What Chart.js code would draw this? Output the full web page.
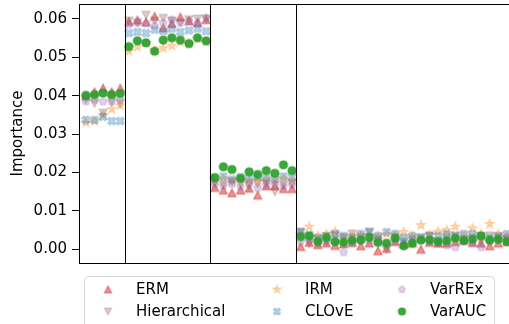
<!DOCTYPE html>
<html>
<head>
<meta charset="utf-8">
<script src="https://cdn.jsdelivr.net/npm/chart.js@4.4.0/dist/chart.umd.min.js"></script>
<style>
  html, body { margin: 0; padding: 0; background: #fff; overflow: hidden; }
  #wrap { position: relative; width: 509px; height: 324px; overflow: hidden; }
  #chart { position: absolute; left: 0; top: -10px; width: 530px; height: 340px; }
</style>
</head>
<body>
<div id="wrap"><canvas id="chart" width="530" height="340"></canvas></div>
<script>
// feature importance per method, features 0..49 (plot is cropped on the right)
const ERM = [
  0.0400, 0.0410, 0.0420, 0.0410, 0.0420,
  0.0593, 0.0597, 0.0592, 0.0607, 0.0577, 0.0588, 0.0605, 0.0595, 0.0591, 0.0598,
  0.0161, 0.0154, 0.0147, 0.0154, 0.0159, 0.0141, 0.0165, 0.0165, 0.0158, 0.0158,
  0.0007, 0.0018, 0.0012, 0.0016, 0.0010, 0.0014, 0.0018, 0.0009, 0.0016, -0.0004,
  0.0002, 0.0020, 0.0014, 0.0016, 0.0000, 0.0018, 0.0016, 0.0016, 0.0020, 0.0024,
  0.0018, 0.0016, 0.0009, 0.0016, 0.0020
];
const HIERARCHICAL = [
  0.0390, 0.0380, 0.0355, 0.0385, 0.0380,
  0.0595, 0.0590, 0.0610, 0.0595, 0.0602, 0.0595, 0.0590, 0.0598, 0.0600, 0.0600,
  0.0172, 0.0168, 0.0175, 0.0170, 0.0165, 0.0170, 0.0172, 0.0150, 0.0168, 0.0170,
  0.0045, 0.0015, 0.0025, 0.0020, 0.0035, 0.0030, 0.0040, 0.0030, 0.0045, 0.0025,
  0.0000, 0.0030, 0.0020, 0.0025, 0.0030, 0.0035, 0.0020, 0.0030, 0.0035, 0.0025,
  0.0030, 0.0020, 0.0035, 0.0030, 0.0025
];
const IRM = [
  0.0330, 0.0334, 0.0350, 0.0365, 0.0375,
  0.0516, 0.0527, 0.0537, 0.0519, 0.0524, 0.0530, 0.0540, 0.0535, 0.0548, 0.0540,
  0.0180, 0.0185, 0.0178, 0.0182, 0.0180, 0.0178, 0.0183, 0.0180, 0.0185, 0.0180,
  0.0040, 0.0059, 0.0035, 0.0040, 0.0046, 0.0030, 0.0035, 0.0038, 0.0035, 0.0035,
  0.0040, 0.0038, 0.0045, 0.0035, 0.0063, 0.0038, 0.0046, 0.0050, 0.0059, 0.0038,
  0.0055, 0.0040, 0.0066, 0.0040, 0.0035
];
const CLOVE = [
  0.0337, 0.0337, 0.0345, 0.0334, 0.0334,
  0.0563, 0.0566, 0.0563, 0.0572, 0.0568, 0.0575, 0.0566, 0.0570, 0.0575, 0.0568,
  0.0185, 0.0190, 0.0182, 0.0188, 0.0185, 0.0190, 0.0185, 0.0183, 0.0190, 0.0188,
  0.0045, 0.0038, 0.0030, 0.0035, 0.0040, 0.0035, 0.0030, 0.0040, 0.0045, 0.0035,
  0.0045, 0.0040, 0.0030, 0.0035, 0.0030, 0.0035, 0.0035, 0.0040, 0.0035, 0.0040,
  0.0040, 0.0035, 0.0030, 0.0035, 0.0040
];
const VARREX = [
  0.0385, 0.0390, 0.0385, 0.0385, 0.0390,
  0.0585, 0.0590, 0.0588, 0.0582, 0.0590, 0.0598, 0.0590, 0.0595, 0.0588, 0.0603,
  0.0168, 0.0165, 0.0170, 0.0163, 0.0172, 0.0160, 0.0168, 0.0170, 0.0165, 0.0168,
  0.0020, 0.0025, 0.0015, 0.0020, 0.0018, -0.0008, 0.0015, 0.0025, 0.0020, 0.0025,
  0.0010, 0.0020, 0.0015, 0.0018, 0.0025, 0.0020, 0.0015, 0.0010, 0.0005, 0.0020,
  0.0015, 0.0005, 0.0020, 0.0025, 0.0030
];
const VARAUC = [
  0.0401, 0.0403, 0.0407, 0.0403, 0.0406,
  0.0528, 0.0543, 0.0538, 0.0516, 0.0545, 0.0551, 0.0545, 0.0536, 0.0551, 0.0543,
  0.0187, 0.0215, 0.0208, 0.0185, 0.0202, 0.0195, 0.0205, 0.0198, 0.0220, 0.0205,
  0.0033, 0.0035, 0.0020, 0.0031, 0.0020, 0.0018, 0.0023, 0.0024, 0.0031, 0.0018,
  0.0016, 0.0029, 0.0009, 0.0016, 0.0024, 0.0024, 0.0020, 0.0022, 0.0029, 0.0023,
  0.0026, 0.0035, 0.0024, 0.0026, 0.0020
];

const Y_TICKS = [0.00, 0.01, 0.02, 0.03, 0.04, 0.05, 0.06];
const GROUP_BREAKS = [4.5, 14.5, 24.5];

const OFFSET_Y = 10;   // canvas is shifted up by this much
const FONT = "DejaVu Sans";

const series = [
  { label: "ERM", values: ERM, shape: "triUp", color: "rgba(214,39,40,0.5)" },
  { label: "Hierarchical", values: HIERARCHICAL, shape: "triDown", color: "rgba(140,86,75,0.3)" },
  { label: "IRM", values: IRM, shape: "star", color: "rgba(255,127,14,0.3)" },
  { label: "CLOvE", values: CLOVE, shape: "xFilled", color: "rgba(31,119,180,0.3)" },
  { label: "VarREx", values: VARREX, shape: "pentagon", color: "rgba(148,103,189,0.3)" },
  { label: "VarAUC", values: VARAUC, shape: "circle", color: "rgba(44,160,44,0.92)" },
];

function markerPath(ctx, shape, s) {
  const r = s / 2;
  ctx.beginPath();
  if (shape === "circle") {
    ctx.arc(0, 0, r, 0, Math.PI * 2);
  } else if (shape === "triUp") {
    ctx.moveTo(0, -r); ctx.lineTo(r, r); ctx.lineTo(-r, r);
  } else if (shape === "triDown") {
    ctx.moveTo(0, r); ctx.lineTo(r, -r); ctx.lineTo(-r, -r);
  } else if (shape === "star" || shape === "pentagon") {
    const n = shape === "star" ? 10 : 5;
    for (let k = 0; k < n; k++) {
      const a = -Math.PI / 2 + k * 2 * Math.PI / n;
      const rr = shape === "star" && k % 2 ? r * 0.381966 : r;
      ctx.lineTo(rr * Math.cos(a), rr * Math.sin(a));
    }
  } else if (shape === "xFilled") {
    const pts = [[-1,-2],[0,-1],[1,-2],[2,-1],[1,0],[2,1],[1,2],[0,1],[-1,2],[-2,1],[-1,0],[-2,-1]];
    pts.forEach(([px, py]) => ctx.lineTo(px * r / 2, py * r / 2));
  }
  ctx.closePath();
}

// matplotlib-like marker: face + same-coloured edge, both with alpha
function makeMarker(shape, size, color) {
  const c = document.createElement("canvas");
  const dim = Math.ceil(size) + 6;
  c.width = dim; c.height = dim;
  const ctx = c.getContext("2d");
  ctx.translate(dim / 2, dim / 2);
  markerPath(ctx, shape, shape === "star" ? size * 1.2 : size);
  ctx.fillStyle = color;
  ctx.fill();
  ctx.strokeStyle = color;
  ctx.lineWidth = 1.2;
  ctx.lineJoin = "miter";
  ctx.stroke();
  return c;
}

series.forEach((s) => {
  s.marker = makeMarker(s.shape, 8, s.color);
  s.legendMarker = makeMarker(s.shape, 7, s.color);
});

const framePlugin = {
  id: "frame",
  afterDatasetsDraw(chart) {
    const { ctx, chartArea: a, scales } = chart;
    ctx.save();
    ctx.strokeStyle = "#000";
    ctx.lineWidth = 1;
    GROUP_BREAKS.forEach((b) => {
      const x = Math.round(scales.x.getPixelForValue(b)) + 0.5;
      ctx.beginPath();
      ctx.moveTo(x, a.top);
      ctx.lineTo(x, a.bottom);
      ctx.stroke();
    });
    ctx.strokeRect(Math.round(a.left) + 0.5, Math.round(a.top) + 0.5,
      Math.round(a.right - a.left), Math.round(a.bottom - a.top));
    ctx.restore();
  },
  afterDraw(chart) {
    const ctx = chart.ctx;
    ctx.save();
    ctx.translate(0, OFFSET_Y);
    // legend frame
    ctx.beginPath();
    ctx.roundRect(84.5, 276.5, 410, 60, 4);
    ctx.fillStyle = "rgba(255,255,255,0.8)";
    ctx.fill();
    ctx.strokeStyle = "#d6d6d6";
    ctx.lineWidth = 1;
    ctx.stroke();
    const colX = [108, 277, 402];
    const rowY = [289.5, 311.5];
    ctx.font = "15px '" + FONT + "'";
    ctx.fillStyle = "#000";
    ctx.textBaseline = "middle";
    series.forEach((s, i) => {
      const col = Math.floor(i / 2), row = i % 2;
      const m = s.legendMarker;
      ctx.drawImage(m, colX[col] - m.width / 2, rowY[row] - m.height / 2);
      ctx.fillText(s.label, colX[col] + 28, rowY[row] + 0.5);
    });
    ctx.restore();
  },
};

new Chart(document.getElementById("chart"), {
  type: "scatter",
  data: {
    datasets: series.map((s, i) => ({
      label: s.label,
      data: s.values.map((y, x) => ({ x, y })),
      pointStyle: s.marker,
      pointRadius: 5,
      order: series.length - i,
      backgroundColor: s.color,
      borderColor: s.color,
    })),
  },
  options: {
    responsive: false,
    animation: false,
    events: [],
    layout: { padding: { left: 0, right: 3, top: 4 + OFFSET_Y, bottom: 340 - 263 - OFFSET_Y } },
    plugins: { legend: { display: false }, tooltip: { enabled: false } },
    scales: {
      x: { type: "linear", min: -0.8, max: 51, display: false },
      y: {
        min: -0.00357,
        max: 0.0639,
        afterBuildTicks: (scale) => { scale.ticks = Y_TICKS.map((v) => ({ value: v })); },
        afterFit: (scale) => { scale.width = 79; },
        ticks: {
          color: "#000",
          padding: 5,
          font: { family: FONT, size: 15 },
          callback: (v) => Number(v).toFixed(2),
        },
        grid: { drawOnChartArea: false, drawTicks: true, tickLength: 7, color: "#000" },
        border: { display: false },
        title: {
          display: true,
          text: "Importance",
          color: "#000",
          font: { family: FONT, size: 15 },
          padding: { top: 9, bottom: 0 },
        },
      },
    },
  },
  plugins: [framePlugin],
});
</script>
</body>
</html>
